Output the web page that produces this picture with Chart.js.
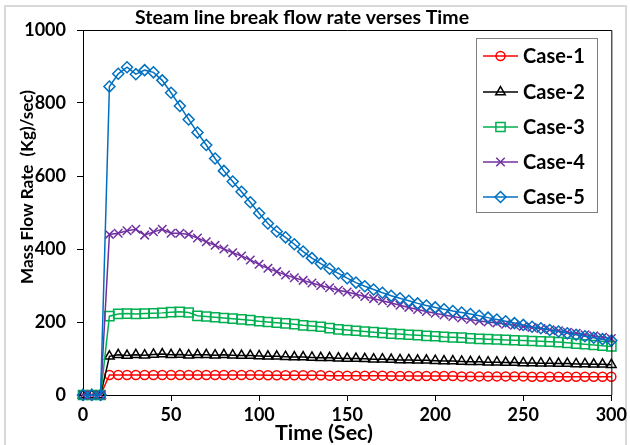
<!DOCTYPE html>
<html>
<head>
<meta charset="utf-8">
<script src="https://cdn.jsdelivr.net/npm/chart.js@4.4.1/dist/chart.umd.min.js"></script>
<style>
html,body{margin:0;padding:0;background:#fff;}
</style>
</head>
<body>
<canvas id="chart" width="630" height="445"></canvas>
<script>
// time in seconds
const timeSec = [0,5,10,15,20,25,30,35,40,45,50,55,60,65,70,75,80,85,90,95,100,
  105,110,115,120,125,130,135,140,145,150,155,160,165,170,175,180,185,190,195,200,
  205,210,215,220,225,230,235,240,245,250,255,260,265,270,275,280,285,290,295,300];

// mass flow rate (kg/sec) for each case
const case1 = [0,0,0,55,55,55,55,55,55,55,55,55,55,55,55,55,55,55,55,55,55,
  54,54,54,54,54,54,54,53,53,53,53,53,53,53,52,52,52,52,52,52,
  52,52,51,51,51,51,51,51,51,51,50,50,50,50,50,50,50,50,50,50];
const case2 = [0,0,0,106,110,108,110,109,111,112,110,111,109,110,110,109,110,109,108,108,107,
  106,106,105,104,104,103,102,102,101,100,100,99,98,98,97,96,96,95,95,94,
  93,93,92,91,91,90,90,89,89,88,88,87,87,86,86,85,85,84,84,83];
const case3 = [0,0,0,216,222,223,222,223,224,225,227,228,226,217,215,213,211,209,207,205,202,
  200,198,196,194,191,189,187,183,180,178,176,174,172,170,168,167,165,164,162,161,
  159,158,157,155,154,153,152,151,150,149,148,147,146,145,143,141,139,137,135,133];
const case4 = [0,0,0,440,443,450,454,438,447,454,443,443,440,430,420,410,400,390,381,370,358,
  347,338,329,321,314,307,300,294,287,282,276,270,264,258,252,246,240,234,229,224,
  219,215,211,207,203,200,197,194,191,188,185,182,179,176,172,169,165,162,158,155];
const case5 = [0,0,0,845,880,898,879,890,884,862,828,792,755,719,685,648,614,585,557,528,498,
  470,448,432,413,393,375,360,346,333,320,308,298,289,280,272,265,258,251,245,240,
  235,230,226,222,217,212,207,202,197,192,187,183,178,174,169,165,161,157,153,149];

const caseNames = ["Case-1","Case-2","Case-3","Case-4","Case-5"];
const caseValues = [case1, case2, case3, case4, case5];
const caseColors = ["#ff0000","#000000","#00b050","#7030a0","#0070c0"];
const caseMarkers = ["circle","triangle","rect","crossRot","rectRot"];
const markerSizes = [4.5, 5.5, 6.5, 6, 5.5];

const yTicks = [0,200,400,600,800,1000];
const xTicks = [0,50,100,150,200,250,300];

const FONT = "Lato, 'Open Sans', sans-serif";

const datasets = caseNames.map((name, i) => ({
  label: name,
  data: timeSec.map((t, k) => ({x: t, y: caseValues[i][k]})),
  borderColor: caseColors[i],
  backgroundColor: "rgba(0,0,0,0)",
  borderWidth: 1.5,
  pointStyle: caseMarkers[i],
  pointRadius: markerSizes[i],
  pointBorderWidth: 1.5,
  pointBorderColor: caseColors[i],
  pointBackgroundColor: "rgba(0,0,0,0)",
  tension: 0,
  clip: false,
  order: 5 - i // Case-5 drawn on top
}));

// draws the frame, titles and the boxed legend
const decor = {
  id: "decor",
  beforeDraw(chart){
    const ctx = chart.ctx;
    ctx.save();
    ctx.fillStyle = "#fff";
    ctx.fillRect(0, 0, chart.width, chart.height);
    ctx.strokeStyle = "#d9d9d9";
    ctx.lineWidth = 2;
    ctx.strokeRect(5, 6, 621, 450);
    ctx.restore();
  },
  afterDraw(chart){
    const ctx = chart.ctx;
    const a = chart.chartArea;
    ctx.save();
    // top and right edge of plot area
    ctx.strokeStyle = "#000";
    ctx.lineWidth = 1;
    ctx.beginPath();
    ctx.moveTo(a.left, a.top + 0.5);
    ctx.lineTo(a.right + 0.5, a.top + 0.5);
    ctx.lineTo(a.right + 0.5, a.bottom);
    ctx.stroke();

    ctx.fillStyle = "#000";
    ctx.textBaseline = "middle";
    ctx.textAlign = "center";
    ctx.font = "bold 19.5px " + FONT;
    ctx.fillText("Steam line break flow rate verses Time", 302, 18);

    ctx.font = "bold 21.5px " + FONT;
    ctx.fillText("Time (Sec)", 324, 433);

    ctx.font = "bold 17px " + FONT;
    ctx.translate(28, 187);
    ctx.rotate(-Math.PI / 2);
    ctx.fillText("Mass Flow Rate  (Kg)/sec)", 0, 0);
    ctx.restore();

    // legend
    ctx.save();
    ctx.fillStyle = "#fff";
    ctx.fillRect(476, 38, 121, 174);
    ctx.strokeStyle = "#7f7f7f";
    ctx.lineWidth = 1;
    ctx.strokeRect(476.5, 38.5, 121, 174);
    const rowY = [56, 92, 127, 162, 197];
    caseNames.forEach((name, i) => {
      const y = rowY[i];
      ctx.strokeStyle = caseColors[i];
      ctx.fillStyle = "rgba(0,0,0,0)";
      ctx.lineWidth = 1.5;
      ctx.beginPath();
      ctx.moveTo(483, y);
      ctx.lineTo(518, y);
      ctx.stroke();
      Chart.helpers.drawPoint(ctx, {
        pointStyle: caseMarkers[i],
        radius: markerSizes[i],
        borderWidth: 1.5,
        rotation: 0
      }, 500.5, y);
      ctx.fillStyle = "#000";
      ctx.font = "bold 20px " + FONT;
      ctx.textAlign = "left";
      ctx.textBaseline = "middle";
      ctx.fillText(name, 523, y + 1);
    });
    ctx.restore();
  }
};

const tickFont = { family: FONT, size: 18, weight: "bold" };

new Chart(document.getElementById("chart"), {
  type: "line",
  data: { datasets: datasets },
  options: {
    responsive: false,
    animation: false,
    layout: { padding: { left: 0, right: 18, top: 30, bottom: 0 } },
    plugins: {
      legend: { display: false },
      title: { display: false },
      tooltip: { enabled: false }
    },
    scales: {
      x: {
        type: "linear",
        min: 0, max: 300,
        afterFit: s => { s.height = 50; },
        afterBuildTicks: s => { s.ticks = xTicks.map(v => ({value: v})); },
        grid: { drawOnChartArea: false, drawTicks: true, tickLength: 6, tickColor: "#000" },
        border: { color: "#000", width: 1 },
        ticks: { color: "#000", padding: 3, font: tickFont, callback: v => String(v) }
      },
      y: {
        min: 0, max: 1000,
        afterFit: s => { s.width = 83; },
        afterBuildTicks: s => { s.ticks = yTicks.map(v => ({value: v})); },
        grid: { drawOnChartArea: false, drawTicks: true, tickLength: 6, tickColor: "#000" },
        border: { color: "#000", width: 1 },
        ticks: { color: "#000", padding: 11, font: tickFont, callback: v => String(v) }
      }
    }
  },
  plugins: [decor]
});
</script>
</body>
</html>
